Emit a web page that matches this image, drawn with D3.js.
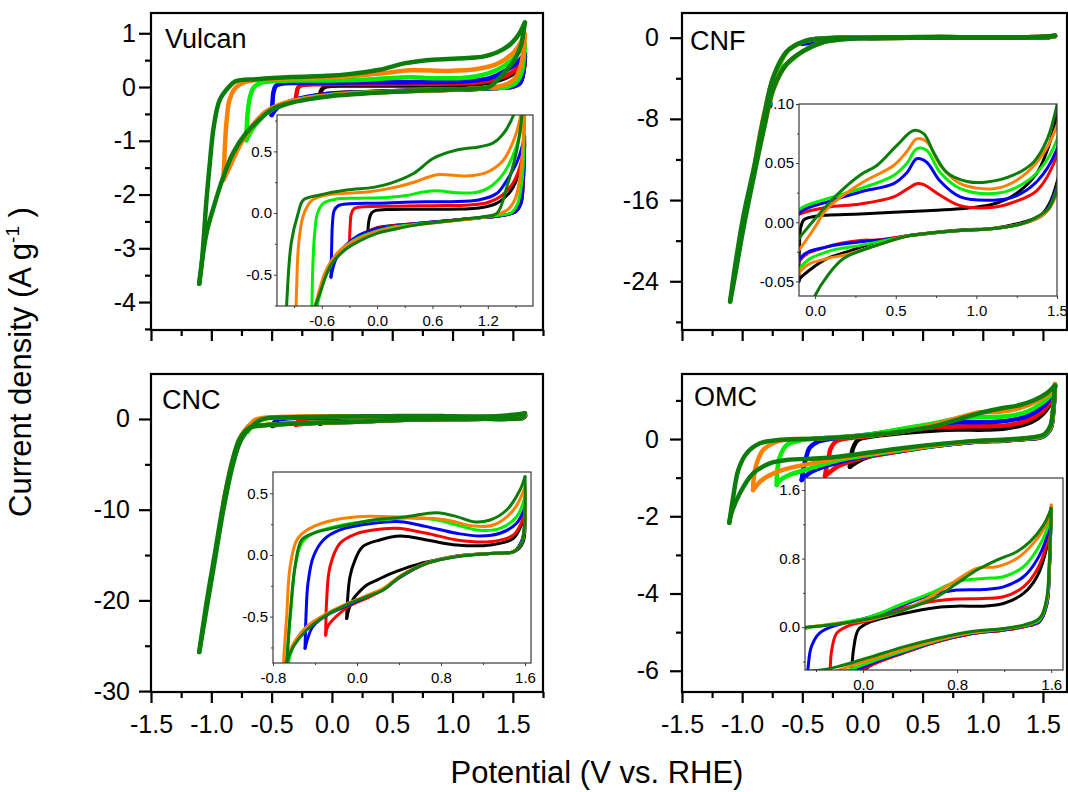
<!DOCTYPE html>
<html><head><meta charset="utf-8">
<script src="https://cdn.jsdelivr.net/npm/d3@7"></script>
<style>
body{margin:0;background:#fff}
svg{display:block}
text{font-family:Arial,"Liberation Sans",sans-serif;fill:#000}
</style>
</head><body>
<svg id="c" width="1068" height="792"></svg>
<script>
// ---------- series (lower vertex potential of each CV) ----------
const seriesNames = ["-0.1 V", "-0.3 V", "-0.5 V", "-0.7 V", "-0.9 V", "-1.1 V"];
const seriesColors = ["#000000", "#ff0000", "#0000ff", "#00ee00", "#ff8000", "#0b7d0b"];

// ---------- tick labels ----------
const mainXTicks = [-1.5, -1.0, -0.5, 0.0, 0.5, 1.0, 1.5];
const vulcanYTicks = [1, 0, -1, -2, -3, -4];
const cnfYTicks = [0, -8, -16, -24];
const cncYTicks = [0, -10, -20, -30];
const omcYTicks = [0, -2, -4, -6];
const vulcanInsetXTicks = [-0.6, 0.0, 0.6, 1.2];
const vulcanInsetYTicks = [-0.5, 0.0, 0.5];
const cnfInsetXTicks = [0.0, 0.5, 1.0, 1.5];
const cnfInsetYTicks = [-0.05, 0.00, 0.05, 0.10];
const cncInsetXTicks = [-0.8, 0.0, 0.8, 1.6];
const cncInsetYTicks = [-0.5, 0.0, 0.5];
const omcInsetXTicks = [0.0, 0.8, 1.6];
const omcInsetYTicks = [0.0, 0.8, 1.6];

// ---------- Vulcan: [E (V vs RHE), I (A/g)] ----------
const vulcanAnodic = [
 [[-0.10,-0.15],[-0.085,-0.05],[-0.06,0.0],[-0.02,0.02],[0.1,0.028],[0.5,0.03],[0.9,0.032],[1.1,0.04],[1.3,0.08],[1.45,0.18],[1.55,0.35],[1.6,0.56]],
 [[-0.3,-0.25],[-0.293,-0.12],[-0.28,-0.01],[-0.25,0.035],[-0.15,0.05],[0.2,0.055],[0.6,0.06],[1.0,0.065],[1.2,0.085],[1.35,0.14],[1.47,0.24],[1.55,0.38],[1.6,0.58]],
 [[-0.5,-0.52],[-0.493,-0.3],[-0.485,-0.1],[-0.465,0.02],[-0.42,0.06],[-0.3,0.075],[0.0,0.08],[0.4,0.09],[0.8,0.092],[1.1,0.105],[1.3,0.16],[1.41,0.27],[1.52,0.42],[1.6,0.62]],
 [[-0.71,-0.99],[-0.705,-0.7],[-0.695,-0.4],[-0.675,-0.15],[-0.645,0.0],[-0.58,0.08],[-0.43,0.115],[-0.2,0.12],[0.1,0.125],[0.3,0.14],[0.5,0.17],[0.65,0.18],[0.85,0.165],[1.05,0.165],[1.2,0.2],[1.37,0.32],[1.5,0.52],[1.6,0.81]],
 [[-0.9,-1.73],[-0.893,-1.4],[-0.885,-1.0],[-0.872,-0.6],[-0.85,-0.25],[-0.8,-0.02],[-0.71,0.1],[-0.55,0.145],[-0.11,0.17],[0.14,0.2],[0.4,0.25],[0.65,0.31],[0.97,0.3],[1.19,0.33],[1.37,0.43],[1.51,0.65],[1.57,0.85],[1.6,0.98]],
 [[-1.1,-3.66],[-1.08,-3.3],[-1.06,-2.72],[-1.04,-2.1],[-1.01,-1.36],[-0.98,-0.74],[-0.93,-0.24],[-0.855,0.0],[-0.8,0.105],[-0.62,0.146],[-0.33,0.186],[-0.04,0.208],[0.141,0.24],[0.394,0.32],[0.611,0.444],[0.864,0.511],[1.117,0.538],[1.262,0.57],[1.371,0.646],[1.48,0.795],[1.55,0.98],[1.6,1.2]]
];
const vulcanCathodic = [
 [[1.6,0.56],[1.585,0.25],[1.56,0.08],[1.5,0.01],[1.35,-0.02],[1.1,-0.04],[0.8,-0.06],[0.5,-0.08],[0.2,-0.1],[0.0,-0.12],[-0.1,-0.15]],
 [[1.6,0.58],[1.585,0.25],[1.56,0.08],[1.5,0.01],[1.35,-0.02],[1.1,-0.04],[0.8,-0.06],[0.5,-0.08],[0.2,-0.1],[0.0,-0.125],[-0.15,-0.165],[-0.3,-0.25]],
 [[1.6,0.62],[1.585,0.27],[1.56,0.08],[1.5,0.01],[1.35,-0.02],[1.1,-0.04],[0.8,-0.06],[0.5,-0.08],[0.2,-0.105],[0.0,-0.13],[-0.2,-0.18],[-0.35,-0.27],[-0.45,-0.38],[-0.5,-0.52]],
 [[1.6,0.81],[1.59,0.5],[1.57,0.25],[1.52,0.07],[1.45,0.0],[1.3,-0.02],[1.1,-0.04],[0.8,-0.065],[0.5,-0.085],[0.2,-0.11],[0.0,-0.145],[-0.2,-0.2],[-0.4,-0.31],[-0.55,-0.5],[-0.64,-0.72],[-0.71,-0.99]],
 [[1.6,0.98],[1.59,0.7],[1.56,0.35],[1.5,0.12],[1.42,0.03],[1.3,-0.01],[1.1,-0.04],[0.8,-0.065],[0.5,-0.09],[0.2,-0.12],[0.0,-0.15],[-0.2,-0.21],[-0.4,-0.3],[-0.55,-0.46],[-0.66,-0.72],[-0.73,-0.95],[-0.8,-1.25],[-0.86,-1.55],[-0.9,-1.73]],
 [[1.6,1.2],[1.585,0.98],[1.57,0.795],[1.515,0.511],[1.407,0.213],[1.3,0.0],[1.15,-0.03],[1.0,-0.045],[0.7,-0.07],[0.4,-0.1],[0.2,-0.13],[0.0,-0.165],[-0.2,-0.23],[-0.35,-0.3],[-0.5,-0.42],[-0.62,-0.65],[-0.71,-0.85],[-0.82,-1.23],[-0.9,-1.67],[-0.98,-2.23],[-1.04,-2.72],[-1.09,-3.46],[-1.1,-3.66]]
];

// ---------- CNF ----------
const cnfAnodic = [
 [[-0.1,-0.05],[-0.097,-0.02],[-0.09,-0.005],[-0.07,0.002],[0.0,0.005],[0.073,0.006],[0.28,0.007],[0.487,0.0085],[0.694,0.0098],[0.9,0.0113],[1.107,0.0154],[1.232,0.0228],[1.377,0.042],[1.45,0.065],[1.5,0.09],[1.55,0.13],[1.6,0.2]],
 [[-0.3,-0.2],[-0.25,-0.05],[-0.17,0.0],[-0.093,0.007],[0.073,0.0127],[0.28,0.0154],[0.487,0.0214],[0.57,0.028],[0.63,0.0326],[0.67,0.032],[0.776,0.0228],[0.9,0.014],[1.107,0.0127],[1.232,0.017],[1.377,0.027],[1.5,0.0565],[1.55,0.09],[1.6,0.15]],
 [[-0.5,-0.6],[-0.47,-0.3],[-0.4,-0.13],[-0.33,-0.07],[-0.2,-0.02],[-0.093,0.0084],[0.073,0.017],[0.28,0.0256],[0.487,0.0326],[0.57,0.042],[0.63,0.0537],[0.69,0.051],[0.776,0.0346],[0.9,0.0214],[1.107,0.0186],[1.232,0.0214],[1.377,0.0346],[1.5,0.0621],[1.55,0.1],[1.6,0.16]],
 [[-0.7,-3.2],[-0.63,-1.4],[-0.49,-0.4],[-0.33,-0.08],[-0.2,-0.01],[-0.093,0.0113],[0.073,0.0197],[0.28,0.0284],[0.487,0.0396],[0.57,0.05],[0.63,0.0621],[0.69,0.061],[0.776,0.042],[0.9,0.0284],[1.107,0.0242],[1.232,0.0284],[1.377,0.042],[1.5,0.07],[1.55,0.11],[1.6,0.17]],
 [[-0.9,-13.0],[-0.86,-10.0],[-0.8,-6.6],[-0.74,-3.9],[-0.63,-1.4],[-0.49,-0.4],[-0.33,-0.09],[-0.2,-0.04],[-0.093,-0.0222],[0.0,-0.004],[0.073,0.0113],[0.28,0.0326],[0.487,0.048],[0.57,0.06],[0.63,0.0705],[0.693,0.068],[0.776,0.0481],[0.9,0.0326],[1.107,0.0284],[1.232,0.034],[1.377,0.051],[1.5,0.082],[1.55,0.12],[1.6,0.19]],
 [[-1.1,-26.0],[-1.06,-22.6],[-0.99,-17.6],[-0.9,-12.7],[-0.82,-7.8],[-0.74,-3.84],[-0.63,-1.38],[-0.49,-0.39],[-0.33,-0.08],[-0.2,-0.03],[-0.093,-0.0124],[0.0,0.003],[0.134,0.023],[0.28,0.04],[0.383,0.048],[0.507,0.065],[0.611,0.0776],[0.673,0.075],[0.735,0.059],[0.818,0.042],[0.942,0.0345],[1.066,0.034],[1.232,0.04],[1.356,0.051],[1.439,0.07],[1.5,0.099],[1.55,0.14],[1.6,0.2]]
];
const cnfCathodic = [
 [[1.6,0.2],[1.55,0.07],[1.5,0.034],[1.45,0.015],[1.4,0.006],[1.29,0.0],[1.11,-0.005],[0.9,-0.0065],[0.59,-0.011],[0.38,-0.017],[0.176,-0.026],[0.073,-0.0307],[0.0,-0.037],[-0.093,-0.0475],[-0.1,-0.05]],
 [[1.6,0.15],[1.55,0.06],[1.5,0.03],[1.45,0.013],[1.4,0.005],[1.29,-0.001],[1.11,-0.0054],[0.9,-0.007],[0.59,-0.0113],[0.38,-0.015],[0.28,-0.0154],[0.073,-0.0208],[-0.093,-0.032],[-0.2,-0.12],[-0.3,-0.2]],
 [[1.6,0.16],[1.55,0.06],[1.5,0.03],[1.45,0.013],[1.4,0.005],[1.29,-0.001],[1.11,-0.0054],[0.9,-0.007],[0.59,-0.0113],[0.487,-0.014],[0.28,-0.0166],[0.073,-0.0208],[-0.093,-0.0307],[-0.2,-0.15],[-0.33,-0.33],[-0.45,-0.52],[-0.5,-0.6]],
 [[1.6,0.17],[1.55,0.06],[1.5,0.028],[1.45,0.012],[1.4,0.005],[1.29,-0.001],[1.11,-0.0054],[0.9,-0.007],[0.59,-0.0113],[0.487,-0.014],[0.28,-0.0196],[0.073,-0.025],[-0.093,-0.039],[-0.2,-0.18],[-0.33,-0.45],[-0.49,-1.3],[-0.63,-2.6],[-0.7,-3.2]],
 [[1.6,0.19],[1.55,0.06],[1.5,0.025],[1.45,0.011],[1.4,0.005],[1.29,-0.001],[1.11,-0.0054],[0.9,-0.007],[0.59,-0.0113],[0.38,-0.0196],[0.176,-0.028],[0.073,-0.0307],[-0.093,-0.0419],[-0.2,-0.19],[-0.33,-0.45],[-0.49,-1.3],[-0.63,-2.6],[-0.74,-5.1],[-0.82,-9.0],[-0.9,-13.0]],
 [[1.6,0.2],[1.55,0.06],[1.5,0.028],[1.45,0.012],[1.395,0.006],[1.29,-0.001],[1.11,-0.0054],[0.9,-0.007],[0.59,-0.0113],[0.383,-0.0196],[0.176,-0.0307],[0.073,-0.046],[0.0,-0.062],[-0.1,-0.1],[-0.2,-0.2],[-0.33,-0.45],[-0.49,-1.3],[-0.63,-2.6],[-0.74,-5.0],[-0.82,-9.0],[-0.9,-13.5],[-0.99,-18.8],[-1.06,-23.5],[-1.1,-26.0]]
];

// ---------- CNC ----------
const cncAnodic = [
 [[-0.098,-0.514],[-0.092,-0.392],[-0.067,-0.176],[-0.019,-0.041],[0.054,0.068],[0.216,0.122],[0.41,0.154],[0.663,0.122],[0.95,0.081],[1.267,0.081],[1.49,0.135],[1.584,0.284],[1.6,0.32]],
 [[-0.298,-0.65],[-0.289,-0.365],[-0.257,-0.095],[-0.162,0.095],[0.003,0.176],[0.155,0.203],[0.378,0.216],[0.663,0.176],[0.95,0.122],[1.267,0.108],[1.49,0.162],[1.59,0.311],[1.6,0.34]],
 [[-0.495,-0.757],[-0.486,-0.5],[-0.467,-0.23],[-0.416,-0.014],[-0.32,0.122],[-0.162,0.203],[0.155,0.257],[0.41,0.27],[0.663,0.23],[0.95,0.176],[1.171,0.154],[1.362,0.176],[1.52,0.257],[1.6,0.392]],
 [[-0.7,-1.4],[-0.68,-1.0],[-0.655,-0.7],[-0.622,-0.37],[-0.59,-0.1],[-0.527,0.095],[-0.416,0.176],[-0.162,0.24],[0.155,0.28],[0.473,0.3],[0.759,0.284],[0.95,0.243],[1.171,0.2],[1.362,0.216],[1.52,0.31],[1.6,0.47]],
 [[-0.9,-9.3],[-0.85,-6.0],[-0.8,-3.5],[-0.75,-1.8],[-0.7,-0.88],[-0.67,-0.5],[-0.638,-0.1],[-0.574,0.12],[-0.479,0.2],[-0.289,0.27],[0.003,0.311],[0.314,0.311],[0.632,0.3],[0.854,0.284],[1.108,0.235],[1.298,0.243],[1.49,0.365],[1.6,0.55]],
 [[-1.1,-25.7],[-1.04,-20.3],[-0.97,-14.8],[-0.9,-9.3],[-0.83,-4.9],[-0.77,-2.3],[-0.72,-1.35],[-0.67,-0.878],[-0.638,-0.5],[-0.59,-0.095],[-0.527,0.122],[-0.416,0.176],[-0.162,0.23],[0.155,0.284],[0.473,0.311],[0.759,0.343],[0.95,0.311],[1.108,0.27],[1.267,0.284],[1.425,0.365],[1.552,0.527],[1.6,0.635]]
];
const cncCathodic = [
 [[1.6,0.32],[1.58,0.1],[1.5,0.027],[1.267,0.013],[1.0,-0.005],[0.8,-0.035],[0.6,-0.07],[0.45,-0.11],[0.31,-0.155],[0.2,-0.2],[0.09,-0.245],[0.02,-0.3],[-0.03,-0.35],[-0.07,-0.42],[-0.098,-0.514]],
 [[1.6,0.34],[1.575,0.12],[1.49,0.027],[1.267,0.013],[0.95,-0.01],[0.663,-0.07],[0.41,-0.18],[0.251,-0.28],[0.092,-0.35],[-0.067,-0.41],[-0.2,-0.5],[-0.28,-0.58],[-0.298,-0.65]],
 [[1.6,0.392],[1.57,0.12],[1.49,0.027],[1.267,0.013],[0.95,-0.008],[0.663,-0.065],[0.41,-0.18],[0.251,-0.28],[0.092,-0.34],[-0.067,-0.4],[-0.289,-0.49],[-0.42,-0.58],[-0.495,-0.757]],
 [[1.6,0.47],[1.57,0.1],[1.49,0.027],[1.267,0.013],[0.95,-0.012],[0.663,-0.066],[0.41,-0.175],[0.251,-0.28],[0.092,-0.335],[-0.067,-0.39],[-0.289,-0.485],[-0.479,-0.6],[-0.606,-0.74],[-0.67,-0.95],[-0.7,-1.4]],
 [[1.6,0.55],[1.57,0.1],[1.49,0.027],[1.267,0.013],[0.95,-0.01],[0.663,-0.065],[0.41,-0.17],[0.251,-0.27],[0.092,-0.33],[-0.067,-0.385],[-0.289,-0.475],[-0.479,-0.58],[-0.606,-0.72],[-0.67,-0.86],[-0.72,-1.5],[-0.77,-2.6],[-0.83,-5.0],[-0.9,-9.3]],
 [[1.6,0.635],[1.568,0.095],[1.49,0.027],[1.267,0.013],[0.95,-0.014],[0.663,-0.068],[0.41,-0.176],[0.251,-0.284],[0.092,-0.338],[-0.067,-0.392],[-0.289,-0.486],[-0.479,-0.608],[-0.606,-0.743],[-0.67,-0.878],[-0.72,-1.6],[-0.77,-2.8],[-0.83,-5.5],[-0.9,-10.0],[-0.97,-15.5],[-1.04,-21.0],[-1.1,-25.7]]
];

// ---------- OMC ----------
const omcAnodic = [
 [[-0.104,-0.72],[-0.096,-0.5],[-0.082,-0.27],[-0.04,-0.03],[0.06,0.06],[0.343,0.16],[0.626,0.23],[0.797,0.245],[1.024,0.245],[1.194,0.276],[1.364,0.393],[1.478,0.588],[1.563,0.94],[1.6,1.386]],
 [[-0.311,-0.96],[-0.3,-0.75],[-0.281,-0.5],[-0.267,-0.27],[-0.224,-0.07],[-0.11,0.024],[0.06,0.08],[0.343,0.22],[0.57,0.295],[0.797,0.327],[1.024,0.334],[1.194,0.354],[1.364,0.47],[1.478,0.666],[1.563,0.98],[1.6,1.386]],
 [[-0.505,-1.06],[-0.49,-0.75],[-0.47,-0.5],[-0.44,-0.23],[-0.37,-0.07],[-0.224,0.024],[0.06,0.12],[0.343,0.257],[0.57,0.373],[0.797,0.432],[1.024,0.44],[1.194,0.47],[1.364,0.588],[1.478,0.783],[1.563,1.06],[1.6,1.386]],
 [[-0.713,-1.19],[-0.708,-0.8],[-0.686,-0.46],[-0.63,-0.155],[-0.52,-0.04],[-0.479,-0.01],[-0.224,0.045],[0.06,0.12],[0.343,0.276],[0.57,0.393],[0.797,0.53],[1.024,0.568],[1.194,0.588],[1.364,0.705],[1.478,0.9],[1.563,1.135],[1.6,1.386]],
 [[-0.909,-1.32],[-0.903,-0.995],[-0.879,-0.63],[-0.824,-0.28],[-0.713,-0.07],[-0.575,0.0],[-0.479,0.0],[-0.224,0.04],[0.06,0.09],[0.343,0.2],[0.57,0.354],[0.797,0.55],[0.967,0.686],[1.137,0.705],[1.307,0.8],[1.449,0.98],[1.563,1.214],[1.6,1.425]],
 [[-1.107,-2.17],[-1.074,-1.49],[-1.032,-0.8],[-0.963,-0.37],[-0.852,-0.11],[-0.686,-0.02],[-0.479,0.0],[-0.224,0.034],[0.06,0.1],[0.343,0.2],[0.626,0.354],[0.797,0.51],[0.967,0.666],[1.137,0.783],[1.307,0.88],[1.42,0.997],[1.534,1.19],[1.6,1.386]]
];
const omcCathodic = [
 [[1.6,1.386],[1.585,0.7],[1.563,0.27],[1.5,0.065],[1.364,0.005],[1.194,-0.035],[0.91,-0.08],[0.626,-0.17],[0.344,-0.3],[0.06,-0.45],[-0.05,-0.6],[-0.104,-0.72]],
 [[1.6,1.386],[1.585,0.7],[1.563,0.27],[1.5,0.065],[1.364,0.005],[1.194,-0.035],[0.91,-0.08],[0.626,-0.17],[0.344,-0.3],[0.06,-0.45],[-0.1,-0.58],[-0.2,-0.7],[-0.311,-0.96]],
 [[1.6,1.386],[1.585,0.7],[1.563,0.28],[1.5,0.07],[1.364,0.01],[1.194,-0.03],[0.91,-0.075],[0.626,-0.165],[0.344,-0.29],[0.06,-0.43],[-0.2,-0.6],[-0.35,-0.75],[-0.45,-0.9],[-0.505,-1.06]],
 [[1.6,1.386],[1.585,0.75],[1.563,0.3],[1.5,0.08],[1.364,0.015],[1.194,-0.025],[0.91,-0.07],[0.626,-0.16],[0.344,-0.28],[0.06,-0.41],[-0.2,-0.55],[-0.45,-0.78],[-0.6,-0.92],[-0.68,-1.05],[-0.713,-1.19]],
 [[1.6,1.425],[1.585,0.8],[1.563,0.33],[1.5,0.1],[1.364,0.02],[1.194,-0.02],[0.91,-0.065],[0.626,-0.15],[0.344,-0.26],[0.06,-0.38],[-0.2,-0.5],[-0.45,-0.65],[-0.64,-0.78],[-0.78,-0.95],[-0.85,-1.1],[-0.909,-1.32]],
 [[1.6,1.386],[1.585,0.8],[1.563,0.35],[1.52,0.14],[1.478,0.08],[1.364,0.024],[1.194,-0.015],[0.91,-0.054],[0.626,-0.132],[0.344,-0.23],[0.06,-0.35],[-0.223,-0.464],[-0.354,-0.5],[-0.632,-0.544],[-0.77,-0.63],[-0.909,-0.89],[-1.02,-1.41],[-1.09,-1.93],[-1.107,-2.17]]
];

// ---------- layout ----------
const panels = [
 {name:"Vulcan", up:vulcanAnodic, down:vulcanCathodic, box:[151,13,543,330], xDom:[-1.5,1.75], yDom:[-4.52,1.377],
  yTicks:vulcanYTicks, yPad:3, yFmt:"d", label:[165,48], xLabels:false,
  inset:{box:[277,115,533,306], xDom:[-1.085,1.69], yDom:[-0.754,0.795], xTicks:vulcanInsetXTicks, yTicks:vulcanInsetYTicks, xFmt:".1f", yFmt:".1f"}},
 {name:"CNF", up:cnfAnodic, down:cnfCathodic, box:[682,13,1067,330], xDom:[-1.5,1.7], yDom:[-28.8,2.43],
  yTicks:cnfYTicks, yPad:11, yFmt:"d", label:[690,50], xLabels:false,
  inset:{box:[799,104,1057,296], xDom:[-0.1,1.5], yDom:[-0.0624,0.10], xTicks:cnfInsetXTicks, yTicks:cnfInsetYTicks, xFmt:".1f", yFmt:".2f"}},
 {name:"CNC", up:cncAnodic, down:cncCathodic, box:[151,374,543,692], xDom:[-1.5,1.75], yDom:[-30.1,4.96],
  yTicks:cncYTicks, yPad:9, yFmt:"d", label:[162,409], xLabels:true,
  inset:{box:[273,472,531,663], xDom:[-0.8,1.657], yDom:[-0.876,0.673], xTicks:cncInsetXTicks, yTicks:cncInsetYTicks, xFmt:".1f", yFmt:".1f"}},
 {name:"OMC", up:omcAnodic, down:omcCathodic, box:[682,374,1067,692], xDom:[-1.5,1.7], yDom:[-6.55,1.684],
  yTicks:omcYTicks, yPad:11, yFmt:"d", label:[694,406], xLabels:true,
  inset:{box:[805,478,1063,670], xDom:[-0.494,1.7], yDom:[-0.5,1.74], xTicks:omcInsetXTicks, yTicks:omcInsetYTicks, xFmt:".1f", yFmt:".1f"}}
];

const svg = d3.select("#c");
const defs = svg.append("defs");
const hy = s => s.replace(/\u2212/g, "-");
function minorOf(major, dom) {
  const sorted = major.slice().sort((a,b)=>a-b);
  const half = (sorted[1]-sorted[0])/2;
  const lo = Math.min(dom[0],dom[1]), hi = Math.max(dom[0],dom[1]);
  const out = [];
  for (let v = sorted[0] - half*Math.floor((sorted[0]-lo)/half); v <= hi + 1e-9; v += half) {
    const r = Math.round(v*1e6)/1e6;
    if (!sorted.some(m => Math.abs(m-r) < 1e-6)) out.push(r);
  }
  return out;
}

panels.forEach((p, pi) => {
  const [x0,y0,x1,y1] = p.box;
  const xs = d3.scaleLinear().domain(p.xDom).range([x0,x1]);
  const ys = d3.scaleLinear().domain(p.yDom).range([y1,y0]);
  const ins = p.inset;
  const [ix0,iy0,ix1,iy1] = ins.box;
  const ixs = d3.scaleLinear().domain(ins.xDom).range([ix0,ix1]);
  const iys = d3.scaleLinear().domain(ins.yDom).range([iy1,iy0]);

  defs.append("clipPath").attr("id","cm"+pi).append("rect").attr("x",x0).attr("y",y0).attr("width",x1-x0).attr("height",y1-y0);
  defs.append("clipPath").attr("id","ci"+pi).append("rect").attr("x",ix0).attr("y",iy0).attr("width",ix1-ix0).attr("height",iy1-iy0);

  const g = svg.append("g");

  // inset tick labels (under the main curves)
  const insetAxisColor = "#3a3a3a";
  const ixAxis = d3.axisBottom(ixs).tickValues(ins.xTicks).tickSize(3).tickPadding(6).tickFormat(d=>hy(d3.format(ins.xFmt)(d)));
  const iyAxis = d3.axisLeft(iys).tickValues(ins.yTicks).tickSize(3).tickPadding(2).tickFormat(d=>hy(d3.format(ins.yFmt)(d)));
  const ia = g.append("g");
  const iax = ia.append("g").attr("transform",`translate(0,${iy1})`).call(ixAxis);
  const iay = ia.append("g").attr("transform",`translate(${ix0},0)`).call(iyAxis);
  const iax2 = ia.append("g").attr("transform",`translate(0,${iy1})`).call(d3.axisBottom(ixs).tickValues(minorOf(ins.xTicks, ins.xDom)).tickSize(2).tickFormat(""));
  const iay2 = ia.append("g").attr("transform",`translate(${ix0},0)`).call(d3.axisLeft(iys).tickValues(minorOf(ins.yTicks, ins.yDom)).tickSize(2).tickFormat(""));
  [iax,iay,iax2,iay2].forEach(a => {
    a.select(".domain").remove();
    a.selectAll("line").attr("stroke",insetAxisColor).attr("stroke-width",1);
    a.selectAll("text").attr("font-size",15).attr("fill","#1a1a1a").style("font-family","Arial, 'Liberation Sans', sans-serif");
  });

  // main curves
  const mline = d3.line().x(d=>xs(d[0])).y(d=>ys(d[1])).curve(d3.curveCatmullRom.alpha(0.5));
  const mg = g.append("g").attr("clip-path",`url(#cm${pi})`);
  seriesNames.forEach((s, si) => {
    [p.up[si], p.down[si]].forEach(arr => {
      mg.append("path").attr("d", mline(arr)).attr("fill","none").attr("stroke",seriesColors[si])
        .attr("stroke-width",4.5).attr("stroke-linecap","round").attr("stroke-linejoin","round");
    });
  });

  // inset
  g.append("rect").attr("x",ix0).attr("y",iy0).attr("width",ix1-ix0).attr("height",iy1-iy0).attr("fill","#fff");
  const iline = d3.line().x(d=>ixs(d[0])).y(d=>iys(d[1])).curve(d3.curveCatmullRom.alpha(0.5));
  const ig = g.append("g").attr("clip-path",`url(#ci${pi})`);
  seriesNames.forEach((s, si) => {
    [p.up[si], p.down[si]].forEach(arr => {
      ig.append("path").attr("d", iline(arr)).attr("fill","none").attr("stroke",seriesColors[si])
        .attr("stroke-width",3).attr("stroke-linecap","round").attr("stroke-linejoin","round");
    });
  });
  g.append("rect").attr("x",ix0).attr("y",iy0).attr("width",ix1-ix0).attr("height",iy1-iy0)
    .attr("fill","none").attr("stroke",insetAxisColor).attr("stroke-width",1.2);

  // main frame & axes
  g.append("rect").attr("x",x0).attr("y",y0).attr("width",x1-x0).attr("height",y1-y0)
    .attr("fill","none").attr("stroke","#000").attr("stroke-width",2.2);
  const xAx = d3.axisBottom(xs).tickValues(mainXTicks).tickSize(11).tickPadding(12)
    .tickFormat(p.xLabels ? (d=>hy(d3.format(".1f")(d))) : "");
  const xAxMinor = d3.axisBottom(xs).tickValues(minorOf(mainXTicks, p.xDom)).tickSize(6).tickFormat("");
  const yAx = d3.axisLeft(ys).tickValues(p.yTicks).tickSize(12).tickPadding(p.yPad).tickFormat(d=>hy(d3.format(p.yFmt)(d)));
  const yAxMinor = d3.axisLeft(ys).tickValues(minorOf(p.yTicks, p.yDom)).tickSize(6).tickFormat("");
  const ax1 = g.append("g").attr("transform",`translate(0,${y1})`).call(xAx);
  const ax2 = g.append("g").attr("transform",`translate(0,${y1})`).call(xAxMinor);
  const ay1 = g.append("g").attr("transform",`translate(${x0},0)`).call(yAx);
  const ay2 = g.append("g").attr("transform",`translate(${x0},0)`).call(yAxMinor);
  [ax1,ax2,ay1,ay2].forEach(a => {
    a.select(".domain").remove();
    a.selectAll("line").attr("stroke","#000").attr("stroke-width",2.2);
    a.selectAll("text").attr("font-size",25).attr("fill","#000").style("font-family","Arial, 'Liberation Sans', sans-serif");
  });

  g.append("text").attr("x",p.label[0]).attr("y",p.label[1]).attr("font-size",27).text(p.name);
});

// axis titles
svg.append("text").attr("x",597).attr("y",783).attr("text-anchor","middle").attr("font-size",31)
  .text("Potential (V vs. RHE)");
const yt = svg.append("text").attr("transform","translate(31,362) rotate(-90)").attr("text-anchor","middle").attr("font-size",31);
yt.append("tspan").text("Current density (A g");
yt.append("tspan").attr("font-size",19).attr("dy",-12).text("-1");
yt.append("tspan").attr("dy",12).text(" )");
</script>
</body></html>
